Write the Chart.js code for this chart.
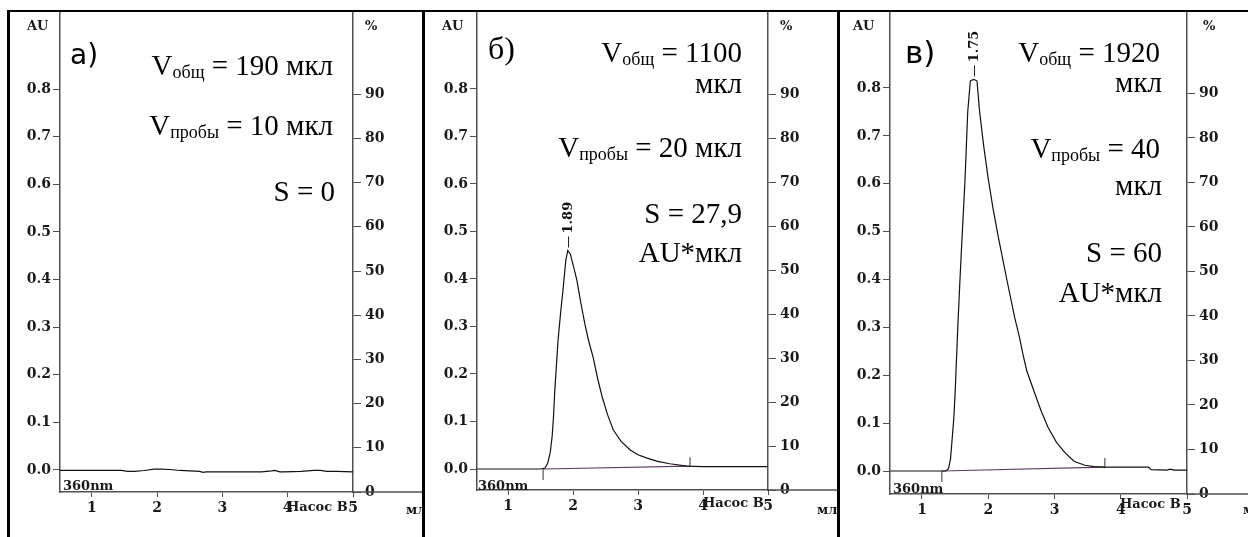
<!DOCTYPE html>
<html>
<head>
<meta charset="utf-8">
<script src="https://cdn.jsdelivr.net/npm/chart.js@4.4.1/dist/chart.umd.min.js"></script>
<style>
  body { margin: 0; background: #fff; width: 1248px; height: 537px; position: relative; overflow: hidden; }
  .frame { position: absolute; background: #000; }
  .panel { position: absolute; top: 12px; height: 525px; overflow: hidden; }
  .panel canvas { position: absolute; left: 0; top: 0; }
  .t { position: absolute; white-space: nowrap; line-height: 1; color: #000; }
  .note { font-family: "Liberation Serif", "Times New Roman", serif; font-size: 29px; }
  .note sub { font-size: 0.62em; vertical-align: -3px; line-height: 1; }
  .tag { font-family: "DejaVu Sans", sans-serif; }
  .lbl { font-family: "DejaVu Serif", serif; font-weight: bold; font-size: 13px; color: #1a1a1a; }
</style>
</head>
<body>
<div class="frame" style="left:7px;top:10px;width:1241px;height:2px"></div>
<div class="frame" style="left:7px;top:10px;width:3px;height:527px"></div>
<div class="frame" style="left:422px;top:10px;width:3px;height:527px"></div>
<div class="frame" style="left:837px;top:10px;width:3px;height:527px"></div>

<!-- а) -->
<div class="panel" style="left:10px;width:412px">
  <canvas id="chartA" width="412" height="525"></canvas>
  <div class="t tag" style="left:60px;top:28.7px;font-size:28px">а)</div>
  <div class="t note" style="right:89px;top:38.7px">V<sub>общ</sub> = 190 мкл</div>
  <div class="t note" style="right:89px;top:98.7px">V<sub>пробы</sub> = 10 мкл</div>
  <div class="t note" style="right:87px;top:164.7px">S = 0</div>
  <div class="t lbl" style="left:17px;top:7px">AU</div>
  <div class="t lbl" style="left:355px;top:7px">%</div>
  <div class="t lbl" style="left:53px;top:467px">360nm</div>
  <div class="t lbl" style="left:277px;top:488px">Насос B</div>
  <div class="t lbl" style="left:396px;top:491px">мл</div>
</div>

<!-- б) -->
<div class="panel" style="left:425px;width:412px">
  <canvas id="chartB" width="412" height="525"></canvas>
  <div class="t note" style="left:63px;top:20px;font-size:32px">б)</div>
  <div class="t note" style="right:95px;top:25.7px">V<sub>общ</sub> = 1100</div>
  <div class="t note" style="right:95px;top:56.7px">мкл</div>
  <div class="t note" style="right:95px;top:120.7px">V<sub>пробы</sub> = 20 мкл</div>
  <div class="t note" style="right:95px;top:186.7px">S = 27,9</div>
  <div class="t note" style="right:95px;top:225.7px">AU*мкл</div>
  <div class="t lbl" style="left:17px;top:7px">AU</div>
  <div class="t lbl" style="left:355px;top:7px">%</div>
  <div class="t lbl" style="left:53px;top:467px">360nm</div>
  <div class="t lbl" style="left:278px;top:484px">Насос B</div>
  <div class="t lbl" style="left:392px;top:491px">мл</div>
</div>

<!-- в) -->
<div class="panel" style="left:840px;width:408px">
  <canvas id="chartC" width="408" height="525"></canvas>
  <div class="t tag" style="left:65px;top:24.8px;font-size:31px">в)</div>
  <div class="t note" style="right:88px;top:25.7px">V<sub>общ</sub> = 1920</div>
  <div class="t note" style="right:86px;top:55.7px">мкл</div>
  <div class="t note" style="right:88px;top:121.7px">V<sub>пробы</sub> = 40</div>
  <div class="t note" style="right:86px;top:158.7px">мкл</div>
  <div class="t note" style="right:86px;top:225.7px">S = 60</div>
  <div class="t note" style="right:86px;top:265.7px">AU*мкл</div>
  <div class="t lbl" style="left:13px;top:7px">AU</div>
  <div class="t lbl" style="left:363px;top:7px">%</div>
  <div class="t lbl" style="left:53px;top:470px">360nm</div>
  <div class="t lbl" style="left:280px;top:485px">Насос B</div>
  <div class="t lbl" style="left:403px;top:491px">мл</div>
</div>

<script>
// axis ticks
const auTicks = [0, 0.1, 0.2, 0.3, 0.4, 0.5, 0.6, 0.7, 0.8];
const pctTicks = [0, 10, 20, 30, 40, 50, 60, 70, 80, 90];
const minTicks = [1, 2, 3, 4, 5];

// а) blank run, minutes / AU
const timeA = [0.51, 0.9, 1.3, 1.45, 1.55, 1.65, 1.8, 1.95, 2.05, 2.2, 2.35, 2.5, 2.65, 2.7, 2.75, 3.0, 3.3, 3.6, 3.75, 3.8, 3.88, 3.95, 4.2, 4.4, 4.5, 4.6, 4.75, 5.0];
const signalA = [-0.001, -0.001, -0.001, -0.001, -0.003, -0.003, -0.001, 0.002, 0.002, 0.001, -0.001, -0.002, -0.003, -0.005, -0.004, -0.004, -0.004, -0.004, -0.002, -0.001, -0.004, -0.004, -0.003, -0.001, -0.001, -0.003, -0.003, -0.004];

// б)
const timeB = [0.52, 1.0, 1.5, 1.57, 1.61, 1.65, 1.68, 1.70, 1.72, 1.77, 1.81, 1.85, 1.89, 1.92, 1.96, 2.01, 2.06, 2.12, 2.18, 2.24, 2.31, 2.38, 2.45, 2.53, 2.62, 2.74, 2.88, 3.0, 3.14, 3.3, 3.49, 3.75, 4.0, 4.5, 5.0];
const signalB = [0.0, 0.0, 0.0, 0.002, 0.012, 0.035, 0.07, 0.11, 0.166, 0.271, 0.33, 0.382, 0.44, 0.46, 0.452, 0.425, 0.397, 0.35, 0.307, 0.27, 0.235, 0.19, 0.151, 0.115, 0.082, 0.058, 0.040, 0.030, 0.023, 0.016, 0.011, 0.006, 0.005, 0.005, 0.005];
const baseTimeB = [1.55, 3.8];
const baseValB = [0.0, 0.006];
const markTimeB = [1.54, 3.8];
const markLowB = [-0.023, 0.004];
const markHighB = [0.0, 0.025];

// в)
const timeC = [0.52, 1.0, 1.36, 1.40, 1.43, 1.45, 1.48, 1.50, 1.54, 1.57, 1.60, 1.65, 1.69, 1.73, 1.78, 1.83, 1.87, 1.93, 2.00, 2.07, 2.15, 2.28, 2.40, 2.47, 2.52, 2.58, 2.70, 2.80, 2.90, 3.03, 3.16, 3.30, 3.46, 3.60, 3.73, 4.0, 4.42, 4.46, 4.7, 4.75, 4.8, 5.0];
const signalC = [0.0, 0.0, 0.0, 0.005, 0.025, 0.058, 0.11, 0.163, 0.30, 0.39, 0.475, 0.61, 0.75, 0.815, 0.818, 0.815, 0.75, 0.68, 0.61, 0.55, 0.49, 0.40, 0.32, 0.28, 0.246, 0.21, 0.163, 0.125, 0.092, 0.06, 0.038, 0.02, 0.012, 0.009, 0.008, 0.008, 0.008, 0.003, 0.002, 0.004, 0.002, 0.002];
const baseTimeC = [1.30, 3.75];
const baseValC = [0.0, 0.008];
const markTimeC = [1.30, 3.76];
const markLowC = [-0.023, 0.006];
const markHighC = [0.0, 0.027];

const peakLabels = ["1.89", "1.75"];

const axisColor = "#505050";
const tickFont = { family: "DejaVu Serif", weight: "bold", size: 14 };

function pts(xs, ys) {
  return xs.map((x, i) => ({ x: x, y: ys[i] }));
}

const peakPlugin = {
  id: "peakMark",
  afterDatasetsDraw(chart, args, o) {
    if (!o.label) return;
    const ctx = chart.ctx;
    const px = Math.round(chart.scales.x.getPixelForValue(o.x)) + 0.5;
    const py = chart.scales.y.getPixelForValue(o.y);
    ctx.save();
    ctx.strokeStyle = "#222";
    ctx.lineWidth = 1;
    ctx.beginPath();
    ctx.moveTo(px, py - 3);
    ctx.lineTo(px, py - 14);
    ctx.stroke();
    ctx.translate(px, py - 17);
    ctx.rotate(-Math.PI / 2);
    ctx.font = 'bold 13px "DejaVu Serif"';
    ctx.fillStyle = "#111";
    ctx.textAlign = "left";
    ctx.textBaseline = "middle";
    ctx.fillText(o.label, 0, 0);
    ctx.restore();
  }
};

// x axis line runs on to the panel edge
const extendPlugin = {
  id: "extendAxis",
  afterDraw(chart) {
    const a = chart.chartArea, ctx = chart.ctx;
    ctx.save();
    ctx.strokeStyle = axisColor;
    ctx.lineWidth = 1.5;
    ctx.beginPath();
    ctx.moveTo(a.right, a.bottom);
    ctx.lineTo(chart.width, a.bottom);
    ctx.stroke();
    ctx.restore();
  }
};

function makeChart(id, p) {
  const datasets = [{ data: pts(p.time, p.signal), borderColor: "#111", borderWidth: 1.2 }];
  if (p.baseTime) {
    datasets.push({ data: pts(p.baseTime, p.baseVal), borderColor: "#5b3c63", borderWidth: 1.2 });
    for (let i = 0; i < p.markTime.length; i++) {
      datasets.push({
        data: pts([p.markTime[i], p.markTime[i]], [p.markLow[i], p.markHigh[i]]),
        borderColor: "#333", borderWidth: 1
      });
    }
  }
  let peak = {};
  if (p.label) {
    let k = 0;
    p.signal.forEach((v, i) => { if (v > p.signal[k]) k = i; });
    peak = { x: p.time[k], y: p.signal[k], label: p.label };
  }
  const grid = { drawOnChartArea: false, color: axisColor, tickWidth: 1 };
  const border = { display: true, color: axisColor, width: 1.5 };
  new Chart(document.getElementById(id), {
    type: "line",
    data: { datasets: datasets },
    options: {
      responsive: false,
      animation: false,
      events: [],
      layout: { padding: 0 },
      elements: { point: { radius: 0 }, line: { tension: 0 } },
      plugins: { legend: { display: false }, tooltip: { enabled: false }, peakMark: peak },
      scales: {
        x: {
          type: "linear", min: p.xMin, max: 5,
          afterBuildTicks: s => { s.ticks = minTicks.map(v => ({ value: v })); },
          afterFit: s => { s.height = p.bottomH; s.paddingLeft = 0; s.paddingRight = 0; },
          grid: Object.assign({ tickLength: 5 }, grid),
          border: border,
          ticks: { font: tickFont, color: "#1a1a1a", padding: 3, autoSkip: false, maxRotation: 0, callback: v => String(v) }
        },
        y: {
          position: "left", min: p.auMin, max: p.auMax,
          afterBuildTicks: s => { s.ticks = auTicks.map(v => ({ value: v })); },
          afterFit: s => { s.width = p.leftW; s.paddingTop = 0; s.paddingBottom = 0; },
          grid: Object.assign({ tickLength: 7 }, grid),
          border: border,
          ticks: { font: tickFont, color: "#1a1a1a", padding: 2, autoSkip: false, callback: v => v.toFixed(1) }
        },
        y2: {
          position: "right", min: 0, max: p.pctMax,
          afterBuildTicks: s => { s.ticks = pctTicks.map(v => ({ value: v })); },
          afterFit: s => { s.width = p.rightW; s.paddingTop = 0; s.paddingBottom = 0; },
          grid: Object.assign({ tickLength: 8 }, grid),
          border: border,
          ticks: { font: tickFont, color: "#1a1a1a", padding: 4, autoSkip: false, callback: v => String(v) }
        }
      }
    },
    plugins: [peakPlugin, extendPlugin]
  });
}

makeChart("chartA", {
  time: timeA, signal: signalA,
  xMin: 0.51, auMin: -0.0462, auMax: 0.9617, pctMax: 108.6,
  leftW: 50, rightW: 69, bottomH: 45
});
makeChart("chartB", {
  time: timeB, signal: signalB,
  baseTime: baseTimeB, baseVal: baseValB, markTime: markTimeB, markLow: markLowB, markHigh: markHighB,
  label: peakLabels[0],
  xMin: 0.523, auMin: -0.0442, auMax: 0.962, pctMax: 108.7,
  leftW: 52, rightW: 69, bottomH: 47
});
makeChart("chartC", {
  time: timeC, signal: signalC,
  baseTime: baseTimeC, baseVal: baseValC, markTime: markTimeC, markLow: markLowC, markHigh: markHighC,
  label: peakLabels[1],
  xMin: 0.517, auMin: -0.048, auMax: 0.9587, pctMax: 108.3,
  leftW: 50, rightW: 61, bottomH: 43
});
</script>
</body>
</html>
